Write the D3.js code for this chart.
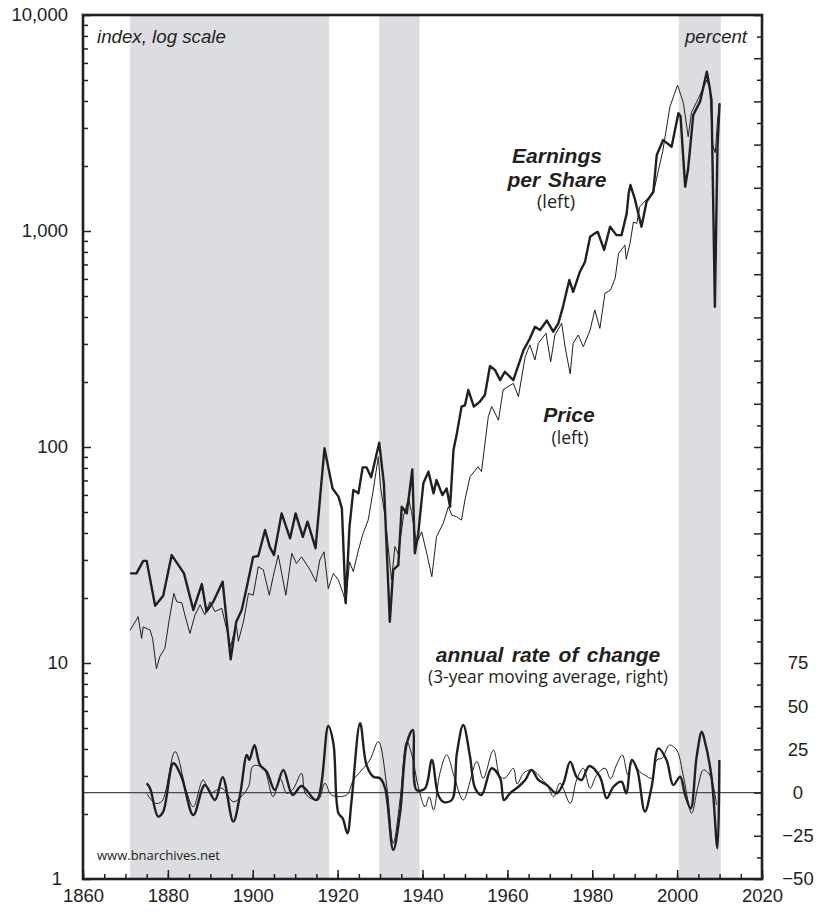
<!DOCTYPE html>
<html><head><meta charset="utf-8">
<script src="https://cdn.jsdelivr.net/npm/d3@7"></script>
<style>body{margin:0;background:#fff}svg{display:block}</style>
</head><body><svg id="c" width="822" height="918"></svg>
<script>
// ---- DATA ----
const epsYears = [1871.1,1872.6,1874.2,1875.0,1877.0,1878.9,1880.9,1882.5,1883.8,1886.0,1888.0,1889.1,1890.7,1892.9,1894.8,1896.1,1897.4,1898.6,1900.1,1901.3,1902.9,1904.0,1905.0,1906.8,1908.8,1910.1,1911.8,1912.9,1914.8,1916.9,1918.8,1920.2,1921.0,1921.9,1922.8,1923.7,1924.9,1925.9,1926.8,1927.9,1929.8,1930.9,1932.3,1933.1,1934.3,1935.1,1936.3,1937.6,1938.2,1939.0,1940.2,1941.4,1942.6,1943.3,1944.7,1945.7,1946.5,1947.3,1948.1,1949.2,1950.0,1950.8,1952.1,1953.5,1954.7,1955.9,1957.1,1958.3,1959.4,1961.4,1963.8,1965.3,1966.5,1967.7,1969.3,1970.8,1972.0,1973.2,1974.6,1975.5,1977.1,1978.3,1979.5,1980.6,1981.3,1982.8,1984.2,1985.7,1986.9,1988.1,1988.6,1989.0,1990.0,1991.6,1992.8,1994.4,1995.2,1996.7,1998.7,2000.3,2000.8,2001.9,2002.6,2003.8,2005.4,2007.0,2007.7,2008.1,2008.9,2009.5,2010.0];
const epsValues = [26,26,29.7,29.7,18.4,20.5,31.6,28.4,26,17.6,23.2,17.3,19.2,23.8,10.4,15.5,17.6,22.5,31,31.3,41.3,34.5,31.6,49.3,37.8,49.3,38.4,45.1,34,98.6,64.3,58.9,52,18.9,42.8,63.2,61,80.5,80.5,72.4,104.7,67.9,15.5,27,28.4,52.9,49.3,78.7,32.2,39.8,67.9,76.9,61,70.3,59.9,64.3,52.9,96.8,115.6,153.8,156,183.6,153.8,162,174,237,227,204,223,204,281,318,360,348,385,342,373,454,593,523,648,721,941,975,990,817,1047,957,957,1200,1500,1633,1416,1047,1367,1520,2248,2636,2455,3510,3400,1603,1950,3444,3970,5460,4575,4040,446,2415,3900];

const priceYears = [1871.1,1872.3,1873.0,1873.8,1874.2,1875.8,1876.4,1877.3,1878.1,1879.3,1880.3,1881.4,1882.1,1883.3,1884.0,1885.2,1886.4,1887.6,1888.7,1889.9,1891.1,1892.7,1893.9,1894.8,1896.1,1896.6,1897.8,1899.0,1900.1,1901.3,1902.5,1903.9,1904.8,1906.0,1907.8,1909.2,1910.3,1911.5,1913.5,1914.9,1915.8,1916.8,1917.8,1919.0,1920.2,1921.3,1921.9,1922.8,1923.7,1924.9,1926.0,1927.2,1928.4,1929.6,1930.1,1931.2,1932.7,1933.5,1934.3,1935.5,1936.7,1937.4,1938.6,1939.8,1941.0,1942.2,1943.3,1944.9,1946.1,1946.9,1948.0,1949.2,1950.0,1951.2,1953.1,1953.9,1955.5,1956.3,1957.9,1959.0,1961.4,1962.6,1964.2,1965.3,1966.5,1967.3,1969.1,1970.2,1971.2,1972.8,1973.6,1974.8,1975.5,1976.7,1977.9,1979.5,1980.6,1981.8,1983.0,1984.3,1985.4,1986.2,1987.7,1988.0,1988.9,1989.7,1990.5,1991.2,1992.8,1994.4,1995.6,1996.6,1998.3,2000.1,2000.8,2001.5,2002.6,2003.4,2005.0,2007.0,2007.7,2008.4,2009.0,2009.5,2010.0];
const priceValues = [14.2,15.5,16.4,13,14.7,14.2,13,9.4,10.7,11.7,15.8,21,19.2,19,16.7,13.7,16.7,18.6,16.7,19.2,17.3,17.9,14.2,11.9,15.2,12.6,15.5,21,20.6,27.9,27,20.6,25.1,31.6,20.6,32.2,28.9,31,27,23.8,30,32.7,22.1,26,24.2,21,19,29.4,26.5,33.3,39.8,45.9,63.2,90.2,65.5,47.6,24.2,34.6,32,47.6,57.8,50.2,35.8,40.5,32.2,25.1,38.4,44.4,52.9,48.4,47.6,45.9,56.9,72.8,81,76.9,138,154,133,184,197,171,262,297,253,302,336,248,330,374,291,218,302,330,291,348,431,354,515,533,604,788,861,740,877,1100,1084,1295,1400,1493,1914,2328,3760,4740,4300,3900,2733,3545,4110,5000,4600,2500,2300,3206,3900];

const epsRocYears = [1875.0,1875.8,1877.7,1878.9,1881.3,1883.2,1886.0,1888.7,1891.1,1892.9,1895.4,1897.0,1898.6,1899.2,1900.4,1901.7,1903.3,1905.2,1907.2,1909.4,1911.5,1915.0,1917.8,1919.0,1920.2,1921.2,1922.3,1923.3,1925.3,1926.8,1928.4,1930.0,1931.2,1933.1,1934.7,1936.3,1937.7,1938.6,1940.6,1942.2,1943.7,1944.9,1946.9,1948.1,1949.6,1951.2,1952.4,1953.9,1956.3,1958.3,1959.2,1960.6,1962.6,1964.2,1965.7,1967.3,1969.3,1971.6,1973.2,1974.8,1976.3,1977.5,1979.3,1981.8,1983.4,1985.0,1986.9,1988.0,1989.3,1990.6,1992.4,1994.0,1995.6,1997.5,1999.1,2000.7,2001.9,2003.2,2004.6,2005.8,2006.5,2008.1,2009.5,2009.95];
const epsRocValues = [5.4,2.5,-13.9,-11,17,9.2,-13,4.4,-4.3,8.9,-16.8,-1.4,21.8,18.9,27.5,16,12.1,1.5,13.1,-1.4,3.8,-4.3,38.5,28.5,-12,-14.9,-23.6,-4.3,40.1,16,9.2,8.3,2.5,-33.2,-12,28.5,36.2,1.5,2.5,18.9,-1.4,-5.3,-4.3,22.7,39.1,20.8,2.5,-1.4,14.1,8.3,-4.3,-0.4,3.4,7.3,13.1,7.3,4.4,-0.4,5.4,17.9,9.2,7.3,15.4,9.2,-3.3,3.4,6.3,-0.4,18.9,13.1,-11,3.4,25.6,18.9,4.4,9.2,-1.4,-9.1,20.8,35.2,30,9.2,-32.2,18.9];

const priceRocYears = [1875.0,1877.0,1878.6,1881.7,1884.4,1886.0,1888.3,1890.0,1892.7,1895.4,1897.0,1899.0,1900.1,1902.5,1904.8,1906.5,1908.0,1909.5,1911.5,1912.5,1915.4,1917.0,1918.6,1922.1,1923.7,1925.7,1927.6,1929.6,1931.6,1933.1,1934.7,1936.3,1937.5,1939.0,1940.6,1941.6,1942.6,1944.1,1945.7,1947.7,1949.6,1952.8,1954.3,1956.7,1958.3,1959.4,1961.4,1962.3,1963.8,1965.7,1969.3,1970.9,1972.4,1974.8,1976.3,1977.9,1979.5,1981.0,1983.0,1984.3,1985.7,1987.1,1988.4,1989.5,1991.2,1992.5,1994.0,1995.2,1996.5,1998.2,1999.9,2001.5,2003.4,2004.9,2006.2,2007.7,2009.3];
const priceRocValues = [-0.4,-6.2,-5,23.7,0.5,-8.2,7.3,0,2.5,-5.3,-3,3.4,15.4,14.1,-2.4,8,-0.4,2,11.2,-1,-4.3,5.4,-1.4,-1.4,7.3,13.1,18.9,29.5,3.4,-29.3,-4.3,29.5,21.8,3.4,-8.2,-2.4,-10.1,11.2,21.8,7.3,-4.3,17.9,8.3,24.6,9.2,8.3,14.1,5,11.2,13.1,4.4,-2.4,5.4,-6.2,7.3,14.1,2.5,10,14.1,8,16,21.8,10.2,18,12.1,10,8.3,18.9,20,27.5,24.6,9.2,-12,3.4,13.1,10.2,-7.2];

const shadeStart = [1871.1, 1929.8, 2000.4];
const shadeEnd   = [1918.0, 1939.3, 2010.3];

const xTickLabels = [1860,1880,1900,1920,1940,1960,1980,2000,2020];
const leftTickLabels = [1,10,100,1000,10000];
const rightTickLabels = [-50,-25,0,25,50,75];

// ---- CHART ----
const INK = '#231f20';
const X0 = 83, X1 = 762, Y0 = 15, Y1 = 879;
const svg = d3.select('#c');
const x = d3.scaleLinear().domain([1860, 2020]).range([X0, X1]);
const yL = d3.scaleLog().domain([1, 10000]).range([Y1, Y0]);
const yR = d3.scaleLinear().domain([-50, 450]).range([Y1, Y0]);

svg.append('defs').append('clipPath').attr('id', 'plot')
  .append('rect').attr('x', X0).attr('y', Y0).attr('width', X1 - X0).attr('height', Y1 - Y0);

// shaded periods
svg.append('g').selectAll('rect').data(d3.range(shadeStart.length)).join('rect')
  .attr('x', i => x(shadeStart[i])).attr('y', Y0)
  .attr('width', i => x(shadeEnd[i]) - x(shadeStart[i])).attr('height', Y1 - Y0)
  .attr('fill', '#dcdde1');

// zero line (right scale)
svg.append('line').attr('x1', X0).attr('x2', X1).attr('y1', yR(0)).attr('y2', yR(0))
  .attr('stroke', '#4a4a4a').attr('stroke-width', 1.1);

const zip = (a, b) => a.map((v, i) => [v, b[i]]);
const lineL = d3.line().x(d => x(d[0])).y(d => yL(d[1]));
const lineR = d3.line().x(d => x(d[0])).y(d => yR(d[1])).curve(d3.curveCatmullRom.alpha(0.5));

const g = svg.append('g').attr('clip-path', 'url(#plot)');
g.append('path').datum(zip(priceYears, priceValues)).attr('d', lineL)
  .attr('fill', 'none').attr('stroke', INK).attr('stroke-width', 1).attr('stroke-linejoin', 'round');
g.append('path').datum(zip(epsYears, epsValues)).attr('d', lineL)
  .attr('fill', 'none').attr('stroke', INK).attr('stroke-width', 2.4).attr('stroke-linejoin', 'round');
g.append('path').datum(zip(priceRocYears, priceRocValues)).attr('d', lineR)
  .attr('fill', 'none').attr('stroke', INK).attr('stroke-width', 1).attr('stroke-linejoin', 'round');
g.append('path').datum(zip(epsRocYears, epsRocValues)).attr('d', lineR)
  .attr('fill', 'none').attr('stroke', INK).attr('stroke-width', 2.4).attr('stroke-linejoin', 'round');

// axes
const tickFont = '"Liberation Sans", Arial, Helvetica, sans-serif';
function styleAxis(sel) {
  sel.select('.domain').remove();
  sel.selectAll('line').attr('stroke', INK).attr('stroke-width', 1.5);
  sel.selectAll('text').attr('fill', INK).style('font-family', tickFont).style('font-size', '18.5px');
}
// left
const leftMinor = [];
[1, 10, 100, 1000].forEach(d => { for (let k = 2; k <= 9; k++) leftMinor.push(d * k); });
svg.append('g').attr('transform', `translate(${X0},0)`)
  .call(d3.axisLeft(yL).tickValues(leftMinor).tickSize(-5).tickFormat('')).call(styleAxis);
const leftAx = svg.append('g').attr('transform', `translate(${X0},0)`)
  .call(d3.axisLeft(yL).tickValues(leftTickLabels).tickSize(-8).tickPadding(15).tickFormat(d3.format(','))).call(styleAxis);
leftAx.selectAll('.tick').filter(d => d === 1).select('text').attr('x', -21);
// bottom
svg.append('g').attr('transform', `translate(0,${Y1})`)
  .call(d3.axisBottom(x).tickValues(d3.range(1860, 2021, 5)).tickSize(-5).tickFormat('')).call(styleAxis);
svg.append('g').attr('transform', `translate(0,${Y1})`)
  .call(d3.axisBottom(x).tickValues(xTickLabels).tickSize(-9).tickPadding(10).tickFormat(d3.format('d'))).call(styleAxis);
// right
const rightAll = d3.range(-50, 450.01, 12.5);
svg.append('g').attr('transform', `translate(${X1},0)`)
  .call(d3.axisRight(yR).tickValues(rightAll.filter(v => v % 25 !== 0)).tickSize(-5).tickFormat('')).call(styleAxis);
svg.append('g').attr('transform', `translate(${X1},0)`)
  .call(d3.axisRight(yR).tickValues(rightAll.filter(v => v % 25 === 0)).tickSize(-8).tickFormat('')).call(styleAxis);
svg.append('g').selectAll('text').data(rightTickLabels).join('text')
  .attr('x', 798).attr('y', d => yR(d)).attr('dy', '0.35em').attr('text-anchor', 'middle')
  .attr('fill', INK).style('font-family', tickFont).style('font-size', '18.5px')
  .text(d => d < 0 ? '\u2212' + Math.abs(d) : String(d));

// frame
svg.append('rect').attr('x', X0).attr('y', Y0).attr('width', X1 - X0).attr('height', Y1 - Y0)
  .attr('fill', 'none').attr('stroke', INK).attr('stroke-width', 2.6);

// annotations
const humanist = '"Open Sans", "Noto Sans", sans-serif';
function txt(t, xx, yy, opts) {
  const e = svg.append('text').attr('x', xx).attr('y', yy).attr('fill', INK)
    .attr('text-anchor', opts.anchor || 'middle')
    .style('font-family', opts.family || tickFont)
    .style('font-size', (opts.size || 18) + 'px')
    .style('font-style', opts.italic ? 'italic' : 'normal')
    .style('font-weight', opts.bold ? 'bold' : 'normal')
    .style('word-spacing', (opts.ws || 0) + 'px')
    .text(t);
  if (opts.width) {
    const w = e.node().getComputedTextLength();
    if (w > 0) e.style('font-size', ((opts.size || 18) * opts.width / w) + 'px');
  }
  return e;
}
txt('index, log scale', 97, 42.5, {anchor: 'start', italic: true, size: 18.5, width: 129});
txt('percent', 747, 42.5, {anchor: 'end', italic: true, size: 18.5, width: 62});
txt('Earnings', 557, 163, {bold: true, italic: true, size: 21});
txt('per Share', 557, 187, {bold: true, italic: true, size: 21, ws: 2});
txt('(left)', 556, 208, {family: humanist, size: 17, width: 38});
txt('Price', 569, 421.5, {bold: true, italic: true, size: 21});
txt('(left)', 570, 444, {family: humanist, size: 17, width: 37});
txt('annual rate of change', 548, 661.5, {bold: true, italic: true, size: 21, ws: 2.5});
txt('(3-year moving average, right)', 548, 683, {family: humanist, size: 17, width: 240});
txt('www.bnarchives.net', 97, 860, {anchor: 'start', family: humanist, size: 13, width: 123});
</script></body></html>
